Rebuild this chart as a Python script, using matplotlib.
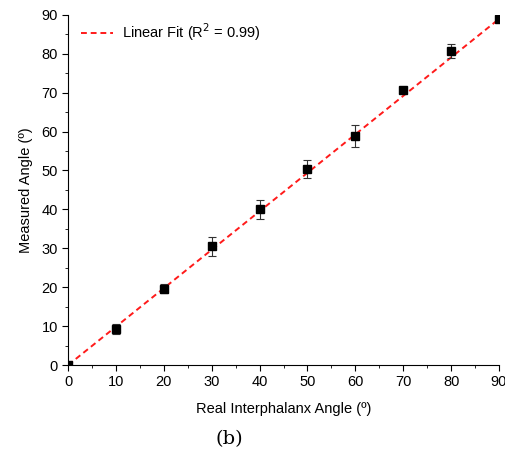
import matplotlib.pyplot as plt
import numpy as np

real_angle = [0, 10, 20, 30, 40, 50, 60, 70, 80, 90]
measured = [0, 9.3, 19.6, 30.5, 40.0, 50.3, 58.9, 70.7, 80.7, 88.9]
errors = [0, 1.2, 1.2, 2.5, 2.5, 2.3, 2.8, 0.8, 1.8, 0.5]
fit_slope = 0.988
fit_intercept = 0.0

plt.rcParams['font.family'] = ['Liberation Sans', 'DejaVu Sans']

fig = plt.figure(figsize=(5.05, 4.49), dpi=100)
ax = fig.add_axes([0.135, 0.187, 0.853, 0.78])

x_fit = np.array([0, 90])
ax.plot(x_fit, fit_intercept + fit_slope * x_fit, '--', color='#ff1a1a',
        lw=1.4, dashes=(3, 2), label='Linear Fit (R$^2$ = 0.99)', zorder=2)
ax.errorbar(real_angle, measured, yerr=errors, fmt='s', color='black',
            ms=6, ecolor='#333333', elinewidth=0.8, capsize=3, capthick=0.8,
            zorder=3)

ax.set_xlim(0, 90)
ax.set_ylim(0, 90)
ax.set_xticks(range(0, 91, 10))
ax.set_yticks(range(0, 91, 10))
ax.set_xticks(range(5, 90, 10), minor=True)
ax.set_yticks(range(5, 90, 10), minor=True)
ax.spines['top'].set_visible(False)
ax.spines['right'].set_visible(False)
ax.tick_params(which='major', direction='out', length=4, labelsize=10.5)
ax.tick_params(which='minor', direction='out', length=2.5)
ax.set_xlabel('Real Interphalanx Angle (º)', fontsize=10.5, labelpad=9)
ax.set_ylabel('Measured Angle (º)', fontsize=10.5, labelpad=6)
ax.legend(loc='upper left', frameon=False, fontsize=10.5, handlelength=2.2,
          handletextpad=0.6, bbox_to_anchor=(0.0, 1.02))

fig.text(0.426, 0.01, '(b)', fontsize=14, family='DejaVu Serif')

fig.savefig('out.png', dpi=100)
